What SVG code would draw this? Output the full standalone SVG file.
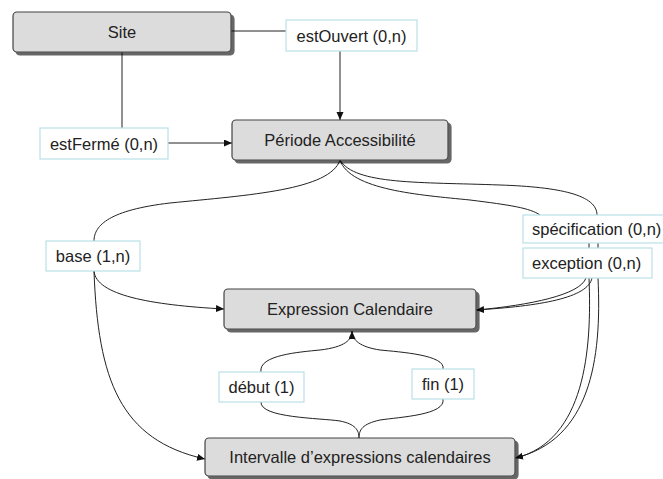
<svg xmlns="http://www.w3.org/2000/svg" width="663" height="479" viewBox="0 0 663 479">
<defs>
<marker id="arr" markerWidth="9" markerHeight="8" refX="8" refY="3.5" orient="auto" markerUnits="userSpaceOnUse">
<path d="M0,0 L8,3.5 L0,7 z" fill="#111"/>
</marker>
<filter id="sh" x="-10%" y="-20%" width="130%" height="160%">
<feOffset dx="3" dy="3" in="SourceAlpha" result="o"/>
<feComponentTransfer in="o" result="c"><feFuncA type="linear" slope="0.6"/></feComponentTransfer>
<feMerge><feMergeNode in="c"/><feMergeNode in="SourceGraphic"/></feMerge>
</filter>
</defs>
<style>
.ent{fill:#dcdcdc;stroke:#444;stroke-width:1.2;filter:url(#sh)}
.lab{fill:#fff;stroke:#b9dfe6;stroke-width:1.2}
text{font-family:"Liberation Sans",Arial,sans-serif;font-size:16.5px;fill:#222}
.c{text-anchor:middle}
.ln{fill:none;stroke:#222;stroke-width:1}
.ar{marker-end:url(#arr)}
</style>
<rect width="663" height="479" fill="#fff"/>
<g id="connectors">
<path class="ln" d="M231,31 H286"/>
<path class="ln ar" d="M340,51 V120"/>
<path class="ln" d="M122,52 V128"/>
<path class="ln ar" d="M168,143 H232"/>
<path class="ln" d="M340,160 C330,190 250,195 170,203 C110,210 94,225 94,241"/>
<path class="ln" d="M340,160 C350,190 420,195 470,200 C510,205 530,208 540,215"/>
<path class="ln" d="M340,160 C355,185 420,182 500,185 C560,187 597,195 597,215"/>
<path class="ln" d="M589,243 V248 M598,243 V248"/>
<path class="ln ar" d="M94,271 C96,295 150,305 224,309"/>
<path class="ln ar" d="M94,271 C98,380 120,440 205,459"/>
<path class="ln" d="M586,278 C580,295 530,305 477,310"/>
<path class="ln ar" d="M592,278 C588,298 540,306 476,310"/>
<path class="ln" d="M589,278 C592,350 585,440 516,458"/>
<path class="ln ar" d="M598,278 C602,360 590,440 515,458"/>
<path class="ln" d="M261,372 C258,355 300,352 320,350 C345,347 352,340 352,331"/>
<path class="ln ar" d="M443,369 C446,355 400,352 380,350 C360,347 352,340 352,331"/>
<path class="ln" d="M261,402 C260,418 320,418 340,421 C355,424 359,430 359,438"/>
<path class="ln" d="M443,399 C446,415 400,417 380,420 C362,424 359,430 359,438"/>
</g>
<g id="site"><rect class="ent" x="13" y="12" width="218" height="40" rx="4"/><text class="c" x="122" y="38">Site</text></g>
<g id="periode"><rect class="ent" x="232" y="120" width="216" height="40" rx="4"/><text class="c" x="340" y="146">Période Accessibilité</text></g>
<g id="expression"><rect class="ent" x="224" y="289" width="252" height="40" rx="4"/><text class="c" x="350" y="315">Expression Calendaire</text></g>
<g id="intervalle"><rect class="ent" x="205" y="438" width="310" height="38" rx="4"/><text class="c" x="360" y="463">Intervalle d’expressions calendaires</text></g>
<g id="lbl-estOuvert"><rect class="lab" x="286" y="20" width="131" height="31"/><text class="c" x="351.5" y="42">estOuvert (0,n)</text></g>
<g id="lbl-estFerme"><rect class="lab" x="40" y="128" width="128" height="31"/><text class="c" x="104" y="150">estFermé (0,n)</text></g>
<g id="lbl-base"><rect class="lab" x="46" y="241" width="94" height="30"/><text class="c" x="93" y="262">base (1,n)</text></g>
<g id="lbl-specification"><rect class="lab" x="523" y="215" width="145" height="28"/><text x="532" y="235">spécification (0,n)</text></g>
<g id="lbl-exception"><rect class="lab" x="523" y="248" width="129" height="30"/><text x="532" y="269">exception (0,n)</text></g>
<g id="lbl-debut"><rect class="lab" x="219" y="372" width="85" height="30"/><text class="c" x="261.5" y="393">début (1)</text></g>
<g id="lbl-fin"><rect class="lab" x="412" y="369" width="62" height="30"/><text class="c" x="443" y="390">fin (1)</text></g>
</svg>
